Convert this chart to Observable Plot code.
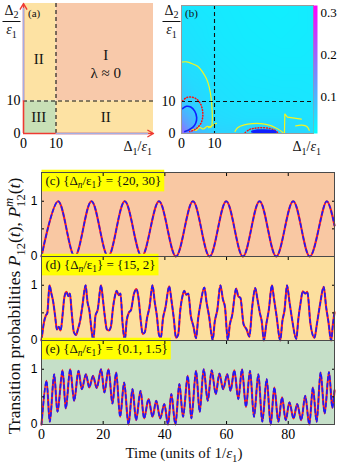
<!DOCTYPE html>
<html><head><meta charset="utf-8">
<script src="https://cdn.jsdelivr.net/npm/d3@7"></script>
<script src="https://cdn.jsdelivr.net/npm/@observablehq/plot@0.6"></script>
<style>
html,body{margin:0;padding:0;background:#fff;}
#root{position:relative;width:341px;height:465px;overflow:hidden;background:#fff;}
</style></head><body><div id="root"></div>
<script>
// ---------------- DATA ----------------
// panel (a): regions of the (Δ1, Δ2) plane
const axisMax = 40, axisSplit = 10;
const regionName = ["I", "II", "II", "III"];
const regionX1 = [10, 0, 10, 0], regionX2 = [40, 10, 40, 10];
const regionY1 = [10, 10, 0, 0], regionY2 = [40, 40, 10, 10];
const regionText = ["II", "I", "λ ≈ 0", "III", "II"];
const regionTextX = [4.7, 25.3, 25.3, 4.7, 25.3];
const regionTextY = [23, 24.2, 18.6, 4.9, 4.9];
const axisTicksAB = [0, 10];

// panel (b): heat map samples (grid) and contour lines
const heatXs = [0, 2, 5, 10, 20, 30, 40];
const heatYs = [0, 2, 5, 10, 20, 30, 40];
const heatV = [
  [0.20, 0.15, 0.095, 0.065, 0.062, 0.068, 0.055],
  [0.17, 0.13, 0.09, 0.06, 0.058, 0.06, 0.05],
  [0.125, 0.105, 0.08, 0.055, 0.05, 0.05, 0.046],
  [0.08, 0.07, 0.06, 0.05, 0.045, 0.044, 0.042],
  [0.055, 0.052, 0.05, 0.045, 0.04, 0.038, 0.038],
  [0.048, 0.046, 0.044, 0.04, 0.036, 0.034, 0.036],
  [0.044, 0.042, 0.04, 0.038, 0.034, 0.032, 0.036]
];
const cbDomain = [0.012, 0.317];
const cbTicks = [0.1, 0.2, 0.3];
const yellowLeft = [[0,22.3],[1.5,22.4],[2.8,22],[4.9,21],[6.4,19.2],[7.6,17],[8.4,14.5],[9,11],[9.3,7],[9.3,3.5],[9,2],[7.8,2.2],[6.6,1.4],[5.5,1.9],[4.4,1],[3,1.4],[1.6,0.8]];
const yellowLeftStub = [[8.2,1.8],[9.5,2.6],[10.6,3.2]];
const redLeft = [[0.3,10.2],[1.5,11.2],[3,11.4],[4.5,10.8],[5.8,9.2],[6.4,7],[6.4,5],[5.9,3.2],[4.9,1.9],[3.8,1.1],[2.5,0.6]];
const blueLeft = [[0.3,7.8],[1.5,8.5],[2.8,8.3],[4,7],[4.6,5],[4.3,3.2],[3.4,1.9],[2.2,1.1],[1,0.6]];
const yellowBottom = [[16.2,0.6],[17,1.8],[19,2.7],[21.5,3.1],[24,3.1],[26.5,2.6],[28.5,1.8],[30,0.9],[30.8,0.2]];
const yellowHook = [[31.2,0.1],[31.3,6.1],[32.1,5.1],[36.3,4.5]];
const yellowRight = [[34.6,2.4],[36.5,2.6],[38,2.2],[38.7,1.0]];
const redBottom = [[19.3,0.3],[20.5,1.2],[22,1.6],[24.5,1.8],[27,1.5],[28.5,0.9],[29.1,0.3]];
const blueBottom = [[21.4,0.6],[23,0.95],[25,1.0],[27.5,0.8],[28.6,0.4],[27,0.2],[24,0.2],[21.4,0.6]];

// panels (c)-(e): transition probabilities vs time (extrema)
const tMax = 95, yMax = 1.52;
const timeTicks = [0, 20, 40, 60, 80];
const probTicks = [0, 0.5, 1];
const panels = ["c", "d", "e"];
const cPts = [[0,0],[5.4,1],[10.8,0],[16.2,1],[21.6,0],[27.0,1],[32.5,0],[38.1,1],[43.6,0],[49.1,1],[54.5,0],[59.9,1],[65.3,0],[70.7,1],[76.1,0],[81.6,1],[87.0,0],[92.5,1],[95.0,0.56]];
const dPts = [[0,0],[0.8,0.33],[1.4,0.45],[1.9,0.5],[2.6,1.0],[3.2,0.85],[3.8,0.7],[4.4,0.45],[5.0,0.2],[5.6,0.25],[6.2,0.18],[6.9,0.5],[7.4,0.78],[8.1,0.88],[8.7,0.8],[9.2,0.85],[9.8,0.5],[10.5,0.15],[11.2,0.1],[11.8,0.2],[12.5,0.35],[13.2,0.6],[14.3,1.0],[14.9,0.7],[15.5,0.55],[16.2,0.2],[16.8,0.0],[17.5,0.45],[18.2,0.55],[19.3,1.0],[19.9,0.75],[20.5,0.45],[21.2,0.2],[21.8,0.18],[22.5,0.25],[23.2,0.6],[23.8,0.8],[24.4,0.9],[25,0.82],[25.6,0.85],[26.3,0.3],[27.0,0.0],[27.6,0.35],[28.3,0.5],[29,0.55],[30,0.85],[30.8,0.93],[31.5,0.75],[32.2,0.35],[32.8,0.12],[33.5,0.15],[34.2,0.4],[35,0.6],[36.0,1.0],[36.7,0.7],[37.4,0.45],[38.1,0.1],[38.7,0.05],[39.4,0.4],[40.2,0.6],[41.4,0.98],[42.2,0.7],[42.9,0.4],[43.6,0.05],[44.3,0.1],[45.0,0.55],[45.7,0.8],[46.3,0.9],[46.9,0.83],[47.6,0.85],[48.4,0.45],[49.3,0.25],[50.1,0.04],[50.8,0.4],[51.6,0.68],[52.8,0.96],[53.5,0.7],[54.3,0.45],[55.5,0.01],[56.2,0.35],[57.0,0.55],[58.0,1.0],[58.8,0.75],[59.5,0.6],[60.4,0.01],[61.1,0.3],[61.8,0.45],[63.1,0.94],[63.8,0.8],[64.5,0.77],[65.5,0.3],[66.5,0.2],[67.4,0.07],[68.3,0.6],[69.3,0.95],[70.0,0.75],[70.8,0.5],[71.4,0.35],[72.1,0.0],[72.9,0.3],[73.7,0.55],[74.7,1.0],[75.4,0.75],[76.2,0.45],[77.4,0.0],[78.1,0.35],[78.8,0.55],[79.6,1.0],[80.4,0.7],[81.2,0.4],[82.6,0.03],[83.3,0.4],[84.0,0.68],[84.7,0.89],[85.5,0.85],[86.2,0.88],[87.2,0.3],[88.5,0.05],[89.3,0.3],[90.3,0.65],[91.5,0.97],[92.3,0.6],[93.0,0.35],[93.9,0.0],[94.5,0.3],[95,0.51]];
const ePts = [[0,0],[1.6,0.79],[2.7,0.05],[4.1,0.91],[5.2,0.23],[6.8,0.98],[7.9,0.29],[9.3,1.0],[10.6,0.43],[12.0,0.97],[13.1,0.64],[14.4,0.91],[15.5,0.67],[16.7,0.88],[17.9,0.66],[19.3,1.0],[20.4,0.58],[21.7,1.0],[23.0,0.38],[24.2,0.94],[25.5,0.14],[26.8,0.76],[28.2,0.0],[29.5,0.64],[30.7,0.08],[32.1,0.61],[33.3,0.11],[34.7,0.46],[36.0,0.14],[37.2,0.43],[38.5,0.11],[39.8,0.37],[41.0,0.0],[42.1,0.55],[43.4,0.0],[44.7,0.73],[45.9,0.14],[47.4,0.88],[48.6,0.11],[50.1,0.97],[51.3,0.23],[52.6,1.0],[53.9,0.43],[55.2,0.98],[56.5,0.55],[57.7,0.92],[58.9,0.64],[60.2,0.91],[61.3,0.61],[62.5,0.98],[63.8,0.46],[65.0,1.0],[66.3,0.32],[67.6,0.97],[68.9,0.14],[70.3,0.91],[71.6,0.05],[73.0,0.82],[74.3,0.0],[75.5,0.67],[76.8,0.05],[78.0,0.49],[79.2,0.08],[80.4,0.40],[81.7,0.11],[82.9,0.37],[84.2,0.08],[85.5,0.52],[86.8,0.0],[88.0,0.67],[89.2,0.05],[90.5,0.94],[91.8,0.2],[93.2,0.95],[94.3,0.3],[95.0,0.62]];
const boxParts = {
  c: [["(c) {Δ"], ["n", "sub it"], ["/ε"], ["1", "sub"], ["} = {20, 30}"]],
  d: [["(d) {Δ"], ["n", "sub it"], ["/ε"], ["1", "sub"], ["} = {15, 2}"]],
  e: [["(e) {Δ"], ["n", "sub it"], ["/ε"], ["1", "sub"], ["} = {0.1, 1.5}"]]
};

// ---------------- STYLE ----------------
const serif = "'Liberation Serif','Times New Roman',serif";
const sans = "'Liberation Sans',Arial,sans-serif";
const regionFill = {I: "#f8c9aa", II: "#fde2a3", III: "#c8e0b6"};
const panelBg = {c: "#f9c8a3", d: "#fcdf9e", e: "#c5dfc8"};
const axisRed = "#ee3a32", axisLav = "#a4ade4";

const root = document.getElementById("root");
function place(el, left, top) {
  el.style.position = "absolute"; el.style.left = left + "px"; el.style.top = top + "px";
  el.style.maxWidth = "none";
  root.appendChild(el); return el;
}
const baseStyle = (fs, fam = serif) => `font-family:${fam};font-size:${fs}px;background:transparent;overflow:visible;max-width:none;`;

// rich text helper: parts = [[string, kind]] kinds: sub, sup, it, under
function buildRich(textSel, parts, fs) {
  textSel.selectAll("*").remove(); textSel.text(null);
  let shift = 0, prevW = 0;
  for (const p of parts) {
    const [s, kind = ""] = p;
    const isSub = kind.includes("sub"), isSup = kind.includes("sup");
    const target = isSub ? 0.28 * fs : isSup ? -0.42 * fs : 0;
    const ts = textSel.append("tspan").text(s);
    if (isSub || isSup) ts.attr("font-size", (0.72 * fs).toFixed(2));
    if (kind.includes("it")) ts.attr("font-style", "italic");
    const dy = target - shift;
    if (dy) ts.attr("dy", dy.toFixed(2));
    if (kind.includes("under")) ts.attr("dx", (-prevW).toFixed(2));
    shift = target;
    prevW = ts.node().getComputedTextLength();
  }
}

// ---------------- PANEL (a) ----------------
const regions = regionName.map((n, i) => ({n, x1: regionX1[i], x2: regionX2[i], y1: regionY1[i], y2: regionY2[i]}));
const regionLabels = regionText.map((t, i) => ({t, x: regionTextX[i], y: regionTextY[i]}));
const pa = Plot.plot({
  width: 165, height: 160, marginLeft: 23, marginRight: 12, marginTop: 3, marginBottom: 27,
  style: baseStyle(14),
  x: {domain: [0, axisMax]}, y: {domain: [0, axisMax]},
  marks: [
    Plot.rect(regions, {x1: "x1", x2: "x2", y1: "y1", y2: "y2", fill: d => regionFill[d.n]}),
    Plot.ruleX([axisSplit], {stroke: "#111", strokeWidth: 1.1, strokeDasharray: "4,3"}),
    Plot.ruleY([axisSplit], {stroke: "#111", strokeWidth: 1.1, strokeDasharray: "4,3"}),
    Plot.text(regionLabels, {x: "x", y: "y", text: "t", fontSize: 15, fontFamily: serif, fill: "#111"}),
    Plot.arrow([0], {x1: 0, y1: axisSplit, x2: 0, y2: axisMax, stroke: axisRed, strokeWidth: 1.4, headLength: 7}),
    Plot.arrow([0], {x1: axisSplit, y1: 0, x2: axisMax, y2: 0, stroke: axisRed, strokeWidth: 1.4, headLength: 7}),
    Plot.ruleX([0], {y1: axisSplit, y2: axisMax - 1.5, stroke: axisLav, strokeWidth: 1.6}),
    Plot.ruleY([0], {x1: axisSplit, x2: axisMax - 1.5, stroke: axisLav, strokeWidth: 1.6}),
    Plot.ruleX([0], {y1: 0, y2: axisSplit, stroke: axisRed, strokeWidth: 1.6}),
    Plot.ruleY([0], {x1: 0, x2: axisSplit, stroke: axisRed, strokeWidth: 1.6}),
    Plot.axisX({ticks: axisTicksAB, tickSize: 0, tickPadding: 5, label: null, fontSize: 14, fontFamily: serif}),
    Plot.axisY({ticks: axisTicksAB, tickSize: 0, tickPadding: 3, label: null, fontSize: 14, fontFamily: serif})
  ]
});
place(pa, 0, 0);

// ---------------- PANEL (b) ----------------
const heatPts = [];
heatYs.forEach((y, j) => heatXs.forEach((x, i) => heatPts.push({x, y, v: heatV[j][i]})));
const colorOpts = {type: "linear", domain: cbDomain, range: ["#00ffff", "#ff00ff"]};
const cline = (pts, o) => Plot.line(pts, {x: d => d[0], y: d => d[1], curve: "catmull-rom", ...o});
const pb = Plot.plot({
  width: 153, height: 160, marginLeft: 21, marginRight: 0, marginTop: 5, marginBottom: 27,
  style: baseStyle(14),
  x: {domain: [0, axisMax]}, y: {domain: [0, axisMax]},
  color: colorOpts,
  marks: [
    Plot.raster(heatPts, {x: "x", y: "y", fill: "v", interpolate: "barycentric"}),
    cline(yellowLeft, {stroke: "#f4f421", strokeWidth: 1.2}),
    cline(yellowLeftStub, {stroke: "#f4f421", strokeWidth: 1.2}),
    cline(yellowBottom, {stroke: "#f4f421", strokeWidth: 1.2}),
    Plot.line(yellowHook, {x: d => d[0], y: d => d[1], stroke: "#f4f421", strokeWidth: 1.2}),
    cline(yellowRight, {stroke: "#f4f421", strokeWidth: 1.2}),
    cline(redLeft, {stroke: "#ff1010", strokeWidth: 1.5, strokeDasharray: "0.8,2", strokeLinecap: "round"}),
    cline(blueLeft, {stroke: "#1020ff", strokeWidth: 1.6}),
    cline(redBottom, {stroke: "#ff1010", strokeWidth: 1.5, strokeDasharray: "0.8,2", strokeLinecap: "round"}),
    cline(blueBottom, {stroke: "#1020ff", strokeWidth: 2.2, fill: "#1020ff"}),
    Plot.ruleX([axisSplit], {stroke: "#111", strokeWidth: 1.1, strokeDasharray: "4,3"}),
    Plot.ruleY([axisSplit], {stroke: "#111", strokeWidth: 1.1, strokeDasharray: "4,3"}),
    Plot.frame({stroke: "#9a9a9a"}),
    Plot.axisX({ticks: axisTicksAB, tickSize: 0, tickPadding: 5, label: null, fontSize: 14, fontFamily: serif}),
    Plot.axisY({ticks: axisTicksAB, tickSize: 0, tickPadding: 6, label: null, fontSize: 14, fontFamily: serif})
  ]
});
place(pb, 160, 0);

// colour bar
const pcb = Plot.plot({
  width: 28, height: 138, marginLeft: 0, marginRight: 24, marginTop: 5, marginBottom: 5,
  style: baseStyle(13),
  x: {domain: [0, 1], axis: null}, y: {domain: cbDomain},
  color: colorOpts,
  marks: [
    Plot.raster({fill: (x, y) => y, x1: 0, x2: 1, y1: cbDomain[0], y2: cbDomain[1], width: 2, height: 128}),
    Plot.axisY({anchor: "right", ticks: cbTicks, tickSize: 0, tickPadding: 3, tickFormat: ".1f", label: null, fontSize: 13, fontFamily: serif})
  ]
});
place(pcb, 313, 0);

// ---------------- PANELS (c)-(e) ----------------
const boxData = panels.map(id => ({id}));
const lineMarks = [];
[["c", cPts, "catmull-rom"], ["d", dPts, "monotone-x"], ["e", ePts, "catmull-rom"]].forEach(([id, pts, curve]) => {
  lineMarks.push(Plot.line(pts, {x: d => d[0], y: d => d[1], fy: () => id, stroke: "#ff1a1a", strokeWidth: 2.1, curve}));
  lineMarks.push(Plot.line(pts, {x: d => d[0], y: d => d[1], fy: () => id, stroke: "#1a1aff", strokeWidth: 1.6, strokeDasharray: "3.5,3", curve}));
});
const pce = Plot.plot({
  width: 341, height: 295, marginLeft: 41, marginRight: 7, marginTop: 2, marginBottom: 41,
  style: baseStyle(14),
  x: {domain: [0, tMax]}, y: {domain: [0, yMax]},
  fy: {domain: panels, paddingInner: 0, paddingOuter: 0, axis: null},
  marks: [
    Plot.rect(boxData, {fy: "id", x1: 0, x2: tMax, y1: 0, y2: yMax, fill: d => panelBg[d.id]}),
    ...lineMarks,
    Plot.text(boxData, {fy: "id", text: "id", frameAnchor: "top-left", dx: 4, dy: 3, lineAnchor: "top", textAnchor: "start", fontSize: 13, fontFamily: serif, fill: "#111"}),
    Plot.axisY({ticks: probTicks, tickFormat: d => d === 0.5 ? "" : String(d), tickSize: -3, tickPadding: 7, label: null, fontFamily: sans, fontSize: 12}),
    Plot.axisY({anchor: "right", ticks: probTicks, tickFormat: () => "", tickSize: -3, label: null}),
    Plot.axisX({anchor: "bottom", ticks: timeTicks, tickSize: -3, tickPadding: 8, label: null, fontSize: 14, fontFamily: serif}),
    Plot.axisX({anchor: "top", ticks: timeTicks, tickSize: -3, tickFormat: () => "", label: null, facetAnchor: null}),
    Plot.frame({stroke: "#4a4a4a"})
  ]
});
place(pce, 0, 170);

// yellow label boxes with rich text
d3.select(pce).selectAll('g[aria-label="text"] text').each(function () {
  const t = d3.select(this);
  const id = t.text();
  buildRich(t, boxParts[id], 13);
  const bb = this.getBBox();
  const r = document.createElementNS("http://www.w3.org/2000/svg", "rect");
  r.setAttribute("x", bb.x - 4); r.setAttribute("y", bb.y - 3);
  r.setAttribute("width", bb.width + 7); r.setAttribute("height", bb.height + 4);
  r.setAttribute("fill", "#ffff00");
  if (this.getAttribute("transform")) r.setAttribute("transform", this.getAttribute("transform"));
  this.parentNode.insertBefore(r, this);
});

// ---------------- OVERLAY LABELS ----------------
const ov = d3.create("svg").attr("width", 341).attr("height", 465)
  .style("font-family", serif).style("pointer-events", "none").style("overflow", "visible");
place(ov.node(), 0, 0);
function rich(parts, x, y, fs, anchor = "start", extra = {}) {
  const t = ov.append("text").attr("x", x).attr("y", y).attr("font-size", fs).attr("text-anchor", anchor).attr("fill", "#111");
  for (const k in extra) t.attr(k, extra[k]);
  buildRich(t, parts, fs);
  return t;
}
function fitRich(parts, x, y, fs, anchor, target, extra) {
  let t = rich(parts, x, y, fs, anchor, extra);
  const w = t.node().getComputedTextLength();
  t.remove();
  return rich(parts, x, y, fs * target / w, anchor, extra);
}
// fractions Δ2/ε1
for (const cx of [11.5, 171.5]) {
  rich([["Δ"], ["2", "sub"]], cx, 14.5, 14, "middle");
  ov.append("line").attr("x1", cx - 9).attr("x2", cx + 9).attr("y1", 21.5).attr("y2", 21.5).attr("stroke", "#111").attr("stroke-width", 1);
  rich([["ε", "it"], ["1", "sub"]], cx, 34, 14, "middle");
}
rich([["(a)"]], 28, 17, 11);
rich([["(b)"]], 185, 17, 11);
rich([["Δ"], ["1", "sub"], ["/"], ["ε", "it"], ["1", "sub"]], 152, 151, 14, "end");
rich([["Δ"], ["1", "sub"], ["/"], ["ε", "it"], ["1", "sub"]], 321, 151, 14, "end");
rich([["Time (units of 1/"], ["ε", "it"], ["1", "sub"], [")"]], 184, 458, 15, "middle");
fitRich([["Transition probabilities "], ["P", "it"], ["12", "sub"], ["("], ["t", "it"], ["), "], ["P", "it"], ["m", "sup it"], ["12", "sub under"], ["("], ["t", "it"], [")"]],
  0, 0, 13, "middle", 266, {transform: "translate(20,306) rotate(-90)"});
</script></body></html>
